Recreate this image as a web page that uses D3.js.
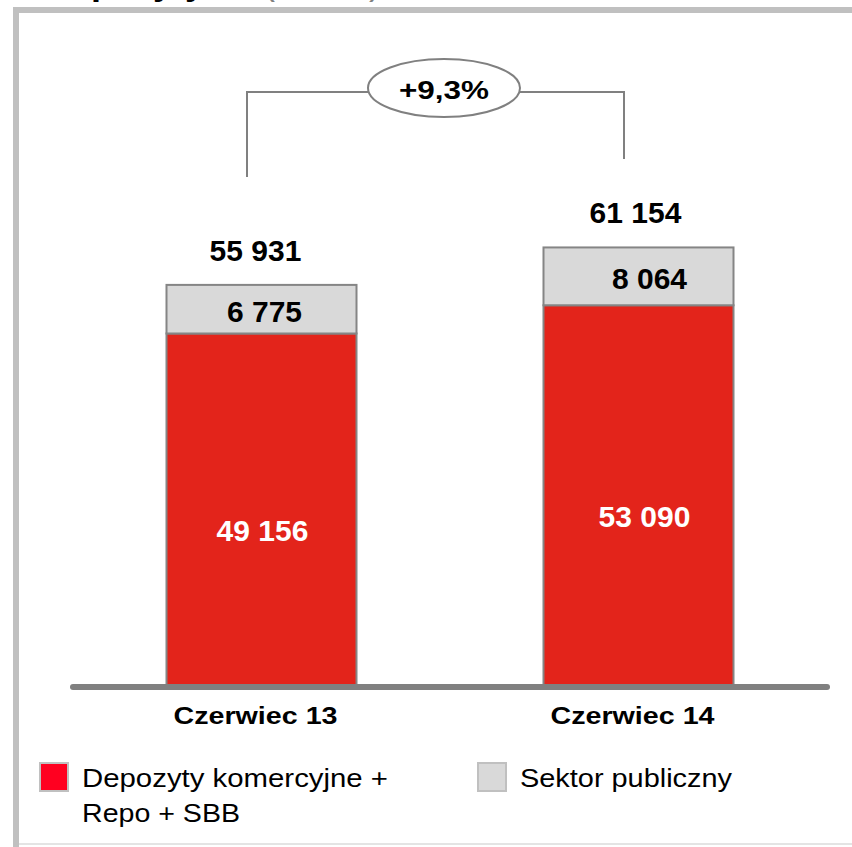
<!DOCTYPE html>
<html>
<head>
<meta charset="utf-8">
<script src="https://cdn.jsdelivr.net/npm/d3@7"></script>
<style>
  body { margin: 0; background: #fff; }
  svg { display: block; font-family: Arial, "Liberation Sans", sans-serif; }
</style>
</head>
<body>
<svg id="chart" width="852" height="847"></svg>
<script>
(function(){

	// data
	const categories = ["Czerwiec 13", "Czerwiec 14"];
	const commercial = [49156, 53090];   // Depozyty komercyjne + Repo + SBB
	const publicSector = [6775, 8064];   // Sektor publiczny
	const totals = [55931, 61154];
	const growthLabel = "+9,3%";
	const legendLabels = [["Depozyty komercyjne +", "Repo + SBB"], ["Sektor publiczny"]];

	const redFill = "#e3241b";
	const greyFill = "#d9d9d9";
	const outline = "#858585";

	const fmt = v => d3.format(",")(v).replace(/,/g, " ");

	const svg = d3.select("#chart");

	// title, cut off by the top of the picture (only the descenders show)
	const title = svg.append("text").attr("x", 45).attr("y", -6).attr("font-size", 36);
	title.append("tspan").attr("font-weight", "bold").attr("fill", "#000").text("Depozyty");
	title.append("tspan").attr("x", 263).attr("fill", "#808080").text("(mln zł)");

	// frame around the chart
	svg.append("line").attr("x1", 13).attr("x2", 852).attr("y1", 10).attr("y2", 10)
		.attr("stroke", "#c0c0c0").attr("stroke-width", 6);
	svg.append("line").attr("x1", 16).attr("x2", 16).attr("y1", 7).attr("y2", 847)
		.attr("stroke", "#c0c0c0").attr("stroke-width", 6);
	svg.append("line").attr("x1", 19).attr("x2", 852).attr("y1", 844).attr("y2", 844)
		.attr("stroke", "#e4e4e4").attr("stroke-width", 2);

	const x = d3.scaleBand().domain(categories).range([73, 827])
		.paddingInner(0.496).paddingOuter(0.248);
	const y = d3.scaleLinear().domain([0, 70000]).range([686, 184]);

	const bw = x.bandwidth();
	const bars = svg.append("g");

	// red segments
	bars.selectAll("rect.red").data(categories).enter().append("rect")
		.attr("class", "red")
		.attr("x", d => x(d))
		.attr("width", bw)
		.attr("y", (d, i) => y(commercial[i]))
		.attr("height", (d, i) => y(0) - y(commercial[i]))
		.attr("fill", redFill)
		.attr("stroke", outline).attr("stroke-width", 2);

	// grey segments
	bars.selectAll("rect.grey").data(categories).enter().append("rect")
		.attr("class", "grey")
		.attr("x", d => x(d))
		.attr("width", bw)
		.attr("y", (d, i) => y(totals[i]))
		.attr("height", (d, i) => y(commercial[i]) - y(totals[i]))
		.attr("fill", greyFill)
		.attr("stroke", outline).attr("stroke-width", 2);

	// baseline
	svg.append("line")
		.attr("x1", x.range()[0]).attr("x2", x.range()[1])
		.attr("y1", y(0) + 1).attr("y2", y(0) + 1)
		.attr("stroke", "#808080").attr("stroke-width", 6).attr("stroke-linecap", "round");

	// small nudges of the segment labels, as in the original slide
	const greyShift = [3, 11];
	const redShift = [1, 6];
	const totalShift = [-6, -3];

	// labels
	svg.selectAll("text.total").data(categories).enter().append("text")
		.attr("x", (d, i) => x(d) + bw / 2 + totalShift[i])
		.attr("y", (d, i) => y(totals[i]) - 24)
		.attr("text-anchor", "middle").attr("font-weight", "bold").attr("font-size", 30)
		.text((d, i) => fmt(totals[i]));

	svg.selectAll("text.grey").data(categories).enter().append("text")
		.attr("x", (d, i) => x(d) + bw / 2 + greyShift[i])
		.attr("y", (d, i) => (y(totals[i]) + y(commercial[i])) / 2 + 13)
		.attr("text-anchor", "middle").attr("font-weight", "bold").attr("font-size", 30)
		.text((d, i) => fmt(publicSector[i]));

	svg.selectAll("text.red").data(categories).enter().append("text")
		.attr("x", (d, i) => x(d) + bw / 2 + redShift[i])
		.attr("y", (d, i) => (y(commercial[i]) + y(0)) / 2 + 31)
		.attr("text-anchor", "middle").attr("font-weight", "bold").attr("font-size", 30)
		.attr("fill", "#fff")
		.text((d, i) => fmt(commercial[i]));

	// category axis labels
	svg.selectAll("text.cat").data(categories).enter().append("text")
		.attr("x", d => x(d) + bw / 2 - 6)
		.attr("y", 724)
		.attr("text-anchor", "middle").attr("font-weight", "bold").attr("font-size", 24)
		.attr("textLength", 164).attr("lengthAdjust", "spacingAndGlyphs")
		.text(d => d);

	// growth bracket
	const legX = categories.map(d => x(d) + bw / 2 - 14.5);
	const legBottom = [177, 159];
	const topY = 92;
	const ell = { cx: 444, cy: 88, rx: 76, ry: 29 };
	const bracket = svg.append("g").attr("stroke", "#808080").attr("stroke-width", 2).attr("fill", "none");
	bracket.append("path")
		.attr("d", `M${legX[0]},${legBottom[0]}V${topY}H${ell.cx - ell.rx}`);
	bracket.append("path")
		.attr("d", `M${ell.cx + ell.rx},${topY}H${legX[1]}V${legBottom[1]}`);
	svg.append("ellipse")
		.attr("cx", ell.cx).attr("cy", ell.cy).attr("rx", ell.rx).attr("ry", ell.ry)
		.attr("fill", "#fff").attr("stroke", "#808080").attr("stroke-width", 2);
	svg.append("text")
		.attr("x", ell.cx).attr("y", 99)
		.attr("text-anchor", "middle").attr("font-weight", "bold").attr("font-size", 26)
		.attr("textLength", 90).attr("lengthAdjust", "spacingAndGlyphs")
		.text(growthLabel);

	// legend
	const legendItems = [
		{ sx: 39, fill: "#ff0020", stroke: "#c0c0c0", lines: legendLabels[0], widths: [306, 158] },
		{ sx: 477, fill: greyFill, stroke: "#c0c0c0", lines: legendLabels[1], widths: [212] }
	];
	const leg = svg.selectAll("g.legend").data(legendItems).enter().append("g").attr("class", "legend");
	leg.append("rect")
		.attr("x", d => d.sx + 1).attr("y", 763).attr("width", 28).attr("height", 28)
		.attr("fill", d => d.fill).attr("stroke", d => d.stroke).attr("stroke-width", 2);
	leg.each(function(d) {
		d3.select(this).selectAll("text").data(d.lines).enter().append("text")
			.attr("x", d.sx + 43)
			.attr("y", (t, j) => 787 + j * 35)
			.attr("font-size", 26)
			.attr("textLength", (t, j) => d.widths[j]).attr("lengthAdjust", "spacingAndGlyphs")
			.text(t => t);
	});

}());
</script>
</body>
</html>
